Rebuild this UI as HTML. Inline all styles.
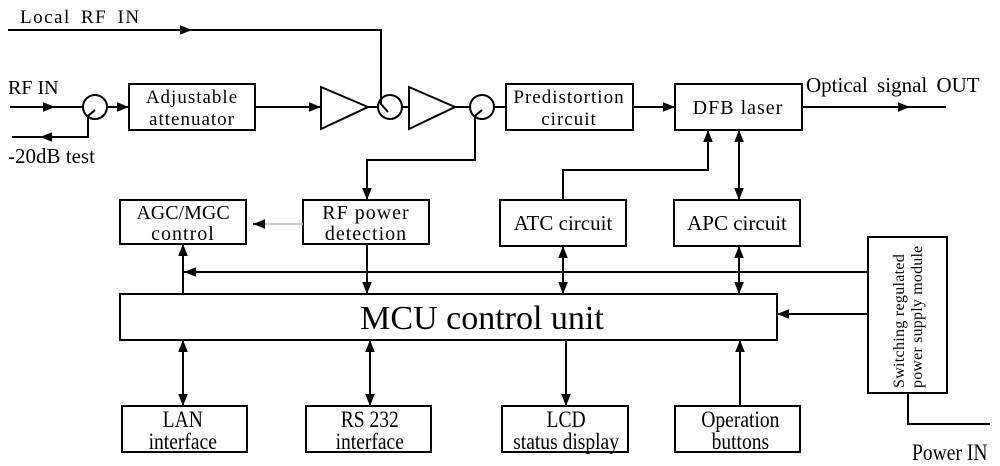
<!DOCTYPE html>
<html><head><style>
html,body{margin:0;padding:0;background:#fff;}
svg{display:block;}
text{font-family:"Liberation Serif",serif;fill:#000;}
</style></head><body>
<svg width="1000" height="466" viewBox="0 0 1000 466" xmlns="http://www.w3.org/2000/svg">
<defs>
<marker id="a" viewBox="0 0 10 10" refX="10" refY="5" markerWidth="12" markerHeight="12" markerUnits="userSpaceOnUse" orient="auto-start-reverse"><path d="M0,1 L10,5 L0,9 z" fill="#000"/></marker>
</defs>
<g stroke="#000" stroke-width="2" fill="none">
<line x1="8" y1="30" x2="192" y2="30" marker-end="url(#a)"/>
<polyline points="190,30 381,30 381,104 388,112"/>
<line x1="10" y1="107" x2="55" y2="107" marker-end="url(#a)"/>
<line x1="53" y1="107" x2="83" y2="107"/>
<circle cx="95" cy="107" r="12"/>
<line x1="107" y1="107" x2="129" y2="107" marker-end="url(#a)"/>
<polyline points="95,110 88,116 88,137 40,137"/>
<line x1="50" y1="137" x2="40" y2="137" marker-end="url(#a)"/>
<line x1="40" y1="137" x2="12" y2="137"/>
<rect x="129" y="84" width="126" height="46"/>
<line x1="255" y1="107" x2="321" y2="107" marker-end="url(#a)"/>
<polygon points="321,87 368,107 321,129"/>
<line x1="368" y1="107" x2="378" y2="107"/>
<circle cx="390" cy="107" r="12"/>
<line x1="402" y1="107" x2="409" y2="107"/>
<polygon points="409,87 455,107 409,129"/>
<line x1="455" y1="107" x2="470" y2="107"/>
<circle cx="482" cy="107" r="12"/>
<line x1="494" y1="107" x2="506" y2="107"/>
<polyline points="482,110 475,116 475,160 367,160 367,200"/>
<line x1="367" y1="180" x2="367" y2="200" marker-end="url(#a)"/>
<rect x="506" y="84" width="127" height="46"/>
<line x1="633" y1="107" x2="675" y2="107" marker-end="url(#a)"/>
<rect x="675" y="84" width="127" height="46"/>
<line x1="802" y1="107" x2="910" y2="107" marker-end="url(#a)"/>
<line x1="905" y1="107" x2="946" y2="107"/>
<rect x="120" y="200" width="126" height="44"/>
<rect x="303" y="200" width="126" height="44"/>
<line x1="303" y1="224" x2="253" y2="224" stroke="#bbb" stroke-width="1.5"/>
<line x1="263" y1="224" x2="253" y2="224" marker-end="url(#a)"/>
<rect x="500" y="200" width="126" height="46"/>
<rect x="674" y="200" width="126" height="46"/>
<polyline points="563,200 563,170 708,170 708,132"/>
<line x1="708" y1="140" x2="708" y2="130" marker-end="url(#a)"/>
<line x1="739" y1="130" x2="739" y2="200" marker-start="url(#a)" marker-end="url(#a)"/>
<line x1="868" y1="272" x2="184" y2="272" marker-end="url(#a)"/>
<line x1="183" y1="294" x2="183" y2="244" marker-end="url(#a)"/>
<line x1="367" y1="244" x2="367" y2="294" marker-end="url(#a)"/>
<line x1="563" y1="246" x2="563" y2="294" marker-start="url(#a)" marker-end="url(#a)"/>
<line x1="739" y1="246" x2="739" y2="294" marker-start="url(#a)" marker-end="url(#a)"/>
<rect x="120" y="294" width="657" height="46"/>
<line x1="868" y1="314" x2="777" y2="314" marker-end="url(#a)"/>
<rect x="868" y="237" width="79" height="156"/>
<polyline points="908,393 908,424 990,424"/>
<line x1="183" y1="340" x2="183" y2="406" marker-start="url(#a)" marker-end="url(#a)"/>
<line x1="370" y1="340" x2="370" y2="406" marker-start="url(#a)" marker-end="url(#a)"/>
<line x1="566" y1="340" x2="566" y2="406" marker-end="url(#a)"/>
<line x1="740" y1="406" x2="740" y2="340" marker-end="url(#a)"/>
<rect x="122" y="406" width="125" height="46"/>
<rect x="306" y="406" width="125" height="46"/>
<rect x="502" y="406" width="126" height="46"/>
<rect x="675" y="406" width="125" height="46"/>
</g>
<g font-size="19">
<text x="20" y="23" letter-spacing="1.5" word-spacing="4">Local  RF  IN</text>
<text x="8" y="94" font-size="20">RF IN</text>
<text x="8" y="163" font-size="21">-20dB test</text>
<text x="192" y="103" text-anchor="middle" letter-spacing="1">Adjustable</text>
<text x="192" y="125" text-anchor="middle" letter-spacing="1">attenuator</text>
<text x="569" y="103" text-anchor="middle" letter-spacing="1">Predistortion</text>
<text x="569" y="125" text-anchor="middle" letter-spacing="1">circuit</text>
<text x="738" y="114" text-anchor="middle" font-size="20" letter-spacing="1">DFB laser</text>
<text x="806" y="92" font-size="21" word-spacing="4">Optical signal  OUT</text>
<text x="183" y="219" text-anchor="middle" font-size="20">AGC/MGC</text>
<text x="183" y="240" text-anchor="middle" font-size="20" letter-spacing="1">control</text>
<text x="366" y="219" text-anchor="middle" font-size="20" letter-spacing="1">RF power</text>
<text x="366" y="240" text-anchor="middle" font-size="20" letter-spacing="1">detection</text>
<text x="563" y="230" text-anchor="middle" font-size="21">ATC circuit</text>
<text x="737" y="230" text-anchor="middle" font-size="21">APC circuit</text>
<text x="482" y="329" text-anchor="middle" font-size="34">MCU control unit</text>
<g transform="scale(0.85 1)">
<text x="215" y="427" text-anchor="middle" font-size="23">LAN</text>
<text x="215" y="449" text-anchor="middle" font-size="23">interface</text>
<text x="435" y="427" text-anchor="middle" font-size="23">RS 232</text>
<text x="435" y="449" text-anchor="middle" font-size="23">interface</text>
<text x="666" y="427" text-anchor="middle" font-size="23">LCD</text>
<text x="666" y="449" text-anchor="middle" font-size="23">status display</text>
<text x="871" y="427" text-anchor="middle" font-size="23">Operation</text>
<text x="871" y="449" text-anchor="middle" font-size="23">buttons</text>
<text x="1073" y="460" font-size="23">Power IN</text>
</g>
<text transform="translate(904 388) rotate(-90)" font-size="16" letter-spacing="0.3">Switching regulated</text>
<text transform="translate(922 388) rotate(-90)" font-size="16" letter-spacing="0.2">power supply module</text>
</g>
</svg>
</body></html>
